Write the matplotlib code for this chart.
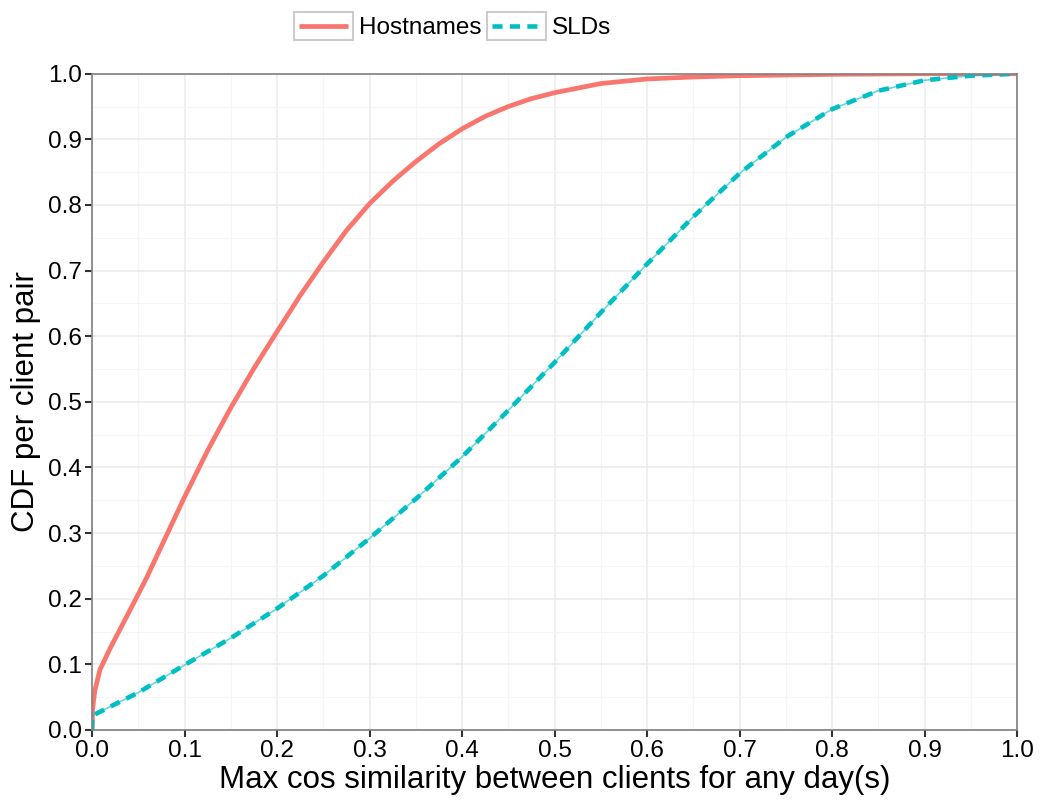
import matplotlib
matplotlib.use("Agg")
import matplotlib.pyplot as plt
from matplotlib.legend_handler import HandlerLine2D
from matplotlib.patches import Rectangle
import numpy as np

plt.rcParams['font.family'] = ['Liberation Sans', 'DejaVu Sans']

# Data
host_x = [0.0, 0.0005, 0.0014, 0.0032, 0.0086, 0.0194, 0.0338, 0.05, 0.059, 0.07, 0.1,
          0.125, 0.15, 0.175, 0.2, 0.225, 0.25, 0.275, 0.3, 0.325, 0.35, 0.375, 0.4,
          0.425, 0.45, 0.475, 0.5, 0.55, 0.6, 0.65, 0.7, 0.8, 0.9, 1.0]
host_y = [0.0, 0.028, 0.042, 0.061, 0.092, 0.124, 0.163, 0.207, 0.232, 0.265, 0.355,
          0.426, 0.491, 0.551, 0.607, 0.662, 0.713, 0.761, 0.802, 0.836, 0.866, 0.893, 0.916,
          0.935, 0.95, 0.962, 0.971, 0.985, 0.992, 0.995, 0.997, 0.999, 1.0, 1.0]

sld_x = [0.0, 0.0005, 0.05, 0.1, 0.15, 0.2, 0.25, 0.3, 0.35, 0.4, 0.45, 0.5, 0.55, 0.6,
         0.65, 0.7, 0.75, 0.8, 0.85, 0.9, 0.95, 1.0]
sld_y = [0.0, 0.022, 0.057, 0.099, 0.14, 0.185, 0.235, 0.292, 0.352, 0.416, 0.487, 0.56, 0.636, 0.71,
         0.782, 0.848, 0.903, 0.946, 0.974, 0.99, 0.997, 1.0]

series_names = ["Hostnames", "SLDs"]
colors = ["#F8766D", "#00BFC4"]

fig = plt.figure(figsize=(10.4, 8.02), dpi=100)
ax = fig.add_axes([0.0885, 0.0898, 0.8894, 0.8183])

ax.set_xlim(0, 1)
ax.set_ylim(0, 1)
ticks = np.round(np.arange(0, 1.01, 0.1), 1)
ax.set_xticks(ticks)
ax.set_yticks(ticks)
ax.set_xticklabels([f"{t:.1f}" for t in ticks])
ax.set_yticklabels([f"{t:.1f}" for t in ticks])
ax.set_xticks(np.arange(0.05, 1.0, 0.1), minor=True)
ax.set_yticks(np.arange(0.05, 1.0, 0.1), minor=True)
ax.grid(which='major', color='#EBEBEB', linewidth=1.1)
ax.grid(which='minor', color='#F5F5F5', linewidth=0.8)
ax.set_axisbelow(True)
ax.tick_params(which='major', direction='out', length=5, width=1.5, color='#333333',
               labelsize=17.5, labelcolor='black', pad=2.5)
ax.tick_params(which='minor', length=0)
for s in ax.spines.values():
    s.set_color('#7F7F7F')
    s.set_linewidth(1.2)

l1, = ax.plot(host_x, host_y, color=colors[0], linewidth=3.4, solid_capstyle='butt',
              solid_joinstyle='round', label=series_names[0])
ax.plot(sld_x, sld_y, color=colors[1], linewidth=1.2, alpha=0.6)
l2, = ax.plot(sld_x, sld_y, color=colors[1], linewidth=3.3, linestyle=(0, (2.2, 1.6)),
              label=series_names[1])

ax.set_xlabel("Max cos similarity between clients for any day(s)", fontsize=22.5, labelpad=2)
ax.set_ylabel("CDF per client pair", fontsize=22.5, labelpad=5)


class BoxedHandler(HandlerLine2D):
    def create_artists(self, legend, orig_handle, xdescent, ydescent, width, height, fontsize, trans):
        arts = super().create_artists(legend, orig_handle, xdescent, ydescent, width, height, fontsize, trans)
        padx, pady = 4, 4
        r = Rectangle((-xdescent - padx, -ydescent - pady), width + 2 * padx, height + 2 * pady,
                      facecolor='white', edgecolor='#CCCCCC', linewidth=1.5, transform=trans)
        return [r] + list(arts)


leg = fig.legend(handles=[l1, l2], loc='center', bbox_to_anchor=(0.4375, 0.965), ncol=2,
                 frameon=False, fontsize=17.5, handlelength=2.0, handletextpad=0.45,
                 columnspacing=0.45,
                 handler_map={l1: BoxedHandler(), l2: BoxedHandler()})

fig.savefig("out.png", dpi=100)
